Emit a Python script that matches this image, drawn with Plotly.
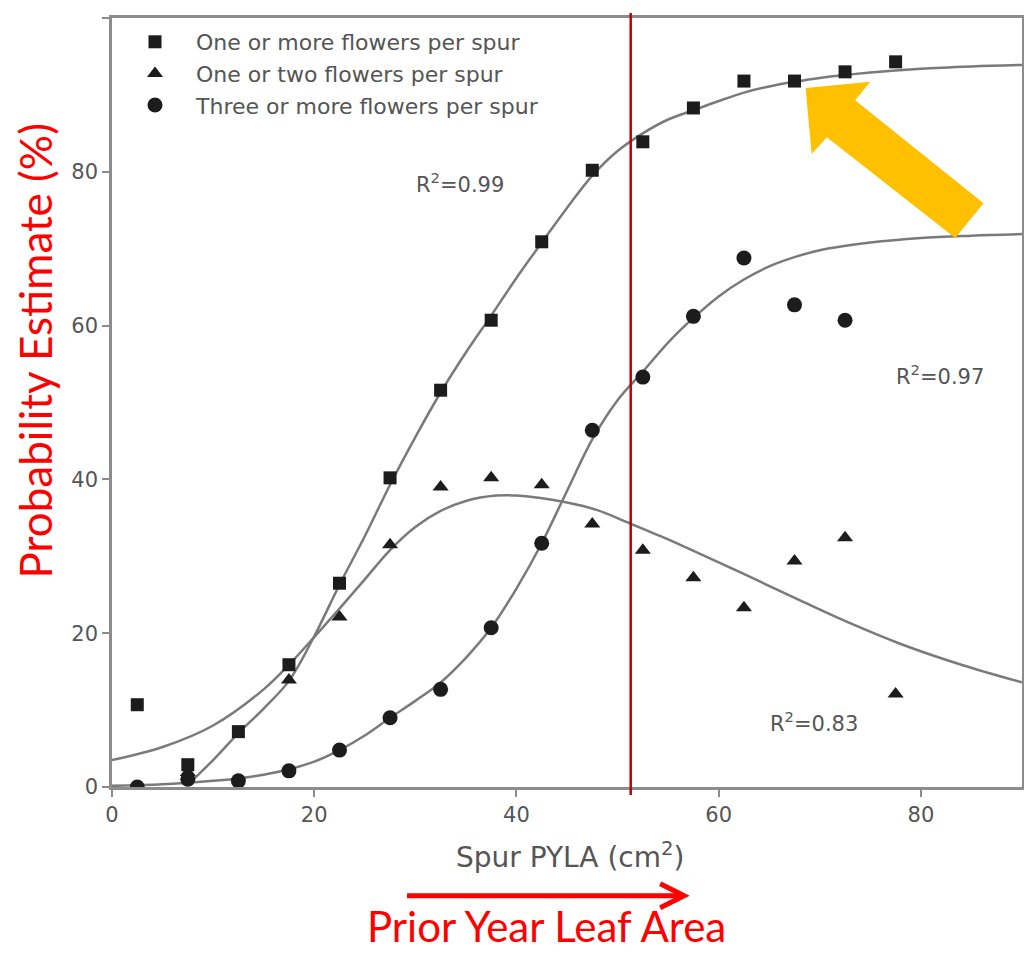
import plotly.graph_objects as go

# ---------------- data ----------------
bins = [2.5, 7.5, 12.5, 17.5, 22.5, 27.5, 32.5, 37.5, 42.5, 47.5,
        52.5, 57.5, 62.5, 67.5, 72.5, 77.5]
one_or_more = [10.7, 2.9, 7.2, 15.9, 26.5, 40.2, 51.6, 60.7, 70.9, 80.2,
               83.9, 88.3, 91.8, 91.8, 93.0, 94.3]

tri_x = [7.5, 17.5, 22.5, 27.5, 32.5, 37.5, 42.5, 47.5, 52.5, 57.5,
         62.5, 67.5, 72.5, 77.5]
one_or_two = [1.9, 13.9, 22.1, 31.5, 39.0, 40.2, 39.3, 34.2, 30.8, 27.2,
              23.3, 29.4, 32.4, 12.1]

circ_x = [2.5, 7.5, 12.5, 17.5, 22.5, 27.5, 32.5, 37.5, 42.5, 47.5,
          52.5, 57.5, 62.5, 67.5, 72.5]
three_or_more = [0.0, 1.0, 0.8, 2.1, 4.8, 9.0, 12.7, 20.7, 31.7, 46.4,
                 53.3, 61.2, 68.8, 62.7, 60.7]

# fitted curves
fitA_x = [7.5, 10, 12.5, 15, 17.5, 20, 22.5, 25, 27.5, 30, 32.5, 35, 37.5,
          40, 42.5, 45, 47.5, 50, 52.5, 55, 57.5, 60, 62.5, 65, 67.5, 70,
          75, 80, 85, 90]
fitA_y = [0.3, 3.5, 7.0, 10.2, 13.8, 19.6, 26.3, 32.6, 39.3, 45.5, 51.3,
          56.5, 61.3, 66.2, 70.8, 75.3, 79.5, 82.7, 85.0, 86.8, 88.0, 89.2,
          90.3, 91.1, 91.7, 92.2, 92.9, 93.4, 93.7, 93.9]

fitB_x = [0, 5, 10, 15, 17.5, 20, 22.5, 25, 27.5, 30, 32.5, 35, 38, 40,
          45, 48, 51, 55, 58, 62, 68, 73, 78, 84, 90]
fitB_y = [3.5, 5.2, 8.0, 12.7, 15.9, 19.5, 23.2, 27.0, 30.8, 33.8, 35.9,
          37.2, 37.9, 37.9, 37.0, 36.0, 34.4, 32.2, 30.4, 28.0, 24.3, 21.3,
          18.6, 15.9, 13.6]

fitC_x = [0, 5, 10, 12.5, 15, 17.5, 20, 22.5, 25, 27.5, 30, 32.5, 35, 37.5,
          40, 42.5, 45, 47.5, 50, 52.5, 55, 57.5, 60, 62.5, 65, 67.5, 70,
          75, 80, 85, 90]
fitC_y = [0.15, 0.35, 0.8, 1.1, 1.6, 2.3, 3.3, 4.8, 6.7, 9.0, 11.2, 13.6,
          16.8, 20.7, 25.8, 31.7, 38.5, 45.2, 50.3, 54.0, 57.8, 61.0, 63.8,
          66.0, 67.7, 68.9, 69.8, 70.8, 71.4, 71.7, 71.9]

series_names = ["One or more flowers per spur", "One or two flowers per spur",
                "Three or more flowers per spur"]
r2_labels = ["R<sup>2</sup>=0.99", "R<sup>2</sup>=0.97", "R<sup>2</sup>=0.83"]
r2_pos = [(34.4, 78.5), (81.9, 53.6), (69.4, 8.5)]
x_ticks = [0, 20, 40, 60, 80]
y_ticks = [0, 20, 40, 60, 80, 100]
x_range = [0, 90]
y_range = [0, 100]
pyla_mark = 51.3

# arrow polygon (data coordinates)
arrow_pts = [(68.6, 90.9), (75.0, 91.7), (73.5, 89.3), (86.2, 75.9),
             (83.4, 71.4), (70.7, 84.5), (69.2, 82.3)]

# ---------------- figure ----------------
OFF = 8                      # page body margin
W, H = 1032 - OFF, 953 - OFF
L, R, T, B = 104, 7, 8, 166
GRAY_TXT = "#555555"
CURVE = "#7a7a7a"
MARK = "#1c1c1c"
FONT = "DejaVu Sans"

fig = go.Figure()
for fx, fy in [(fitA_x, fitA_y), (fitB_x, fitB_y), (fitC_x, fitC_y)]:
    fig.add_trace(go.Scatter(x=fx, y=fy, mode="lines", showlegend=False,
                             line=dict(color=CURVE, width=2.5, shape="spline",
                                       smoothing=1.0),
                             hoverinfo="skip"))

fig.add_trace(go.Scatter(x=bins, y=one_or_more, mode="markers",
                         name=series_names[0],
                         marker=dict(symbol="square", size=13, color=MARK)))
fig.add_trace(go.Scatter(x=tri_x, y=one_or_two, mode="markers",
                         name=series_names[1],
                         marker=dict(symbol="triangle-up", size=14, color=MARK)))
fig.add_trace(go.Scatter(x=circ_x, y=three_or_more, mode="markers",
                         name=series_names[2],
                         marker=dict(symbol="circle", size=15, color=MARK)))

for txt, (xx, yy) in zip(r2_labels, r2_pos):
    fig.add_annotation(x=xx, y=yy, xref="x", yref="y", text=txt,
                       showarrow=False, xanchor="center", yanchor="middle",
                       font=dict(family=FONT, size=21, color=GRAY_TXT))

# helper: screen pixel -> paper
pw = W - L - R
ph = H - T - B
def px(x):
    return (x - OFF - L) / pw
def py(y):
    return (H - B - (y - OFF)) / ph

# vertical marker line at PYLA
xm = (pyla_mark - x_range[0]) / (x_range[1] - x_range[0])
fig.add_shape(type="line", xref="paper", yref="paper", x0=xm, x1=xm,
              y0=py(795), y1=py(11), line=dict(color="#C00000", width=2.5))

# yellow block arrow
path = "M " + " L ".join(f"{x},{y}" for x, y in arrow_pts) + " Z"
fig.add_shape(type="path", xref="x", yref="y", path=path,
              fillcolor="#FFC000", line=dict(width=0), layer="above")

# red arrow below x-axis
fig.add_shape(type="line", xref="paper", yref="paper", x0=px(408), x1=px(684),
              y0=py(896), y1=py(896), line=dict(color="#FF0000", width=5))
fig.add_shape(type="path", xref="paper", yref="paper",
              path=f"M {px(662)},{py(884)} L {px(686)},{py(896)} L {px(662)},{py(908)}",
              line=dict(color="#FF0000", width=5))

# texts
fig.add_annotation(x=px(572), y=py(856), xref="paper", yref="paper",
                   text="Spur PYLA (cm<sup>2</sup>)", showarrow=False,
                   xanchor="center", yanchor="middle",
                   font=dict(family=FONT, size=28, color=GRAY_TXT))
fig.add_annotation(x=px(548), y=py(926), xref="paper", yref="paper",
                   text="Prior Year Leaf Area", showarrow=False,
                   xanchor="center", yanchor="middle",
                   font=dict(family="Lato", size=42, color="#FF0000"))
fig.add_annotation(x=px(35), y=py(350), xref="paper", yref="paper",
                   text="Probability Estimate (%)", showarrow=False,
                   textangle=-90, xanchor="center", yanchor="middle",
                   font=dict(family="Lato", size=44, color="#FF0000"))

axis_common = dict(showgrid=False, zeroline=False, showline=True,
                   linecolor="#8c8c8c", linewidth=2.5, mirror=True,
                   ticks="outside", ticklen=7, tickwidth=2, tickcolor="#8c8c8c",
                   tickfont=dict(family=FONT, size=21, color=GRAY_TXT))

fig.update_layout(
    width=W, height=H,
    margin=dict(l=L, r=R, t=T, b=B),
    paper_bgcolor="white", plot_bgcolor="white",
    xaxis=dict(range=x_range, tickvals=x_ticks, **axis_common),
    yaxis=dict(range=y_range, tickvals=y_ticks, **axis_common),
    showlegend=True,
    legend=dict(x=px(114), y=py(19), xanchor="left", yanchor="top",
                bgcolor="rgba(0,0,0,0)", itemwidth=72,
                font=dict(family=FONT, size=22, color=GRAY_TXT)),
)

fig.write_html("out.html")
